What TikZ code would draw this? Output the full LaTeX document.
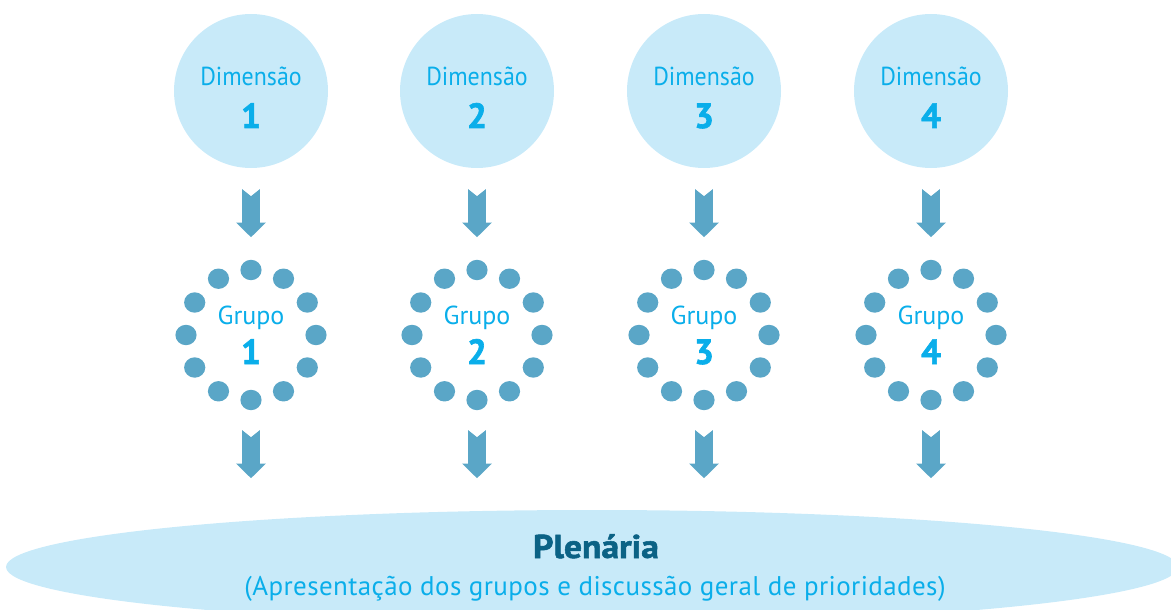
\documentclass[tikz,border=0pt]{standalone}
\usepackage{fontspec}
\setmainfont{PT Sans}
\newfontfamily\heavyfont{PT Sans}[FakeBold=1.6,FakeStretch=1.08]
\newfontfamily\numfont{PT Sans}[FakeBold=1.8]
\newfontfamily\narrowfont{PT Sans}[FakeStretch=0.92]
\newfontfamily\widefont{PT Sans}[LetterSpace=1.5]
\usetikzlibrary{calc,shapes.geometric}
\definecolor{circfill}{HTML}{C8EAF9}
\definecolor{txtblue}{HTML}{0AAEEA}
\definecolor{dotblue}{HTML}{5AA6C7}
\definecolor{plen}{HTML}{0B6285}
\tikzset{
  dimcirc/.style={circle,fill=circfill,minimum size=154pt,inner sep=0pt},
  ringnode/.style={circle,minimum size=151pt,inner sep=0pt},
  lbl/.style={anchor=base,text=txtblue,inner sep=0pt,font=\fontsize{26}{30}\selectfont},
  dimlbl/.style={lbl,font=\narrowfont\fontsize{26}{30}\selectfont},
  numlbl/.style={anchor=base,text=txtblue,inner sep=0pt,font=\numfont\fontsize{35}{40}\selectfont\bfseries},
  dotstyle/.style={fill=dotblue},
  barrow/.pic={\fill[dotblue] (-8.8,0) -- (0,7) -- (8.8,0) -- (8.8,33.5) -- (14.8,33.5) -- (0,48) -- (-14.8,33.5) -- (-8.8,33.5) -- cycle;}
}
\begin{document}
\begin{tikzpicture}[x=1pt,y=-1pt]
\useasboundingbox (0,0) rectangle (1171,610);
% plenary ellipse
\node[ellipse,fill=circfill,minimum width=1172pt,minimum height=114pt,inner sep=0pt] (plen) at (592,567) {};
\node[anchor=base,text=plen,inner sep=0pt,font=\heavyfont\fontsize{33}{36}\selectfont\bfseries] (plent) at (596,558) {Plenária};
\node[anchor=base,text=txtblue,inner sep=0pt,font=\widefont\fontsize{27}{30}\selectfont] (plens) at (595,595) {(Apresentação dos grupos e discussão geral de prioridades)};
\foreach \i/\x in {1/251,2/477,3/704,4/931}{
  \node[dimcirc] (d\i) at (\x,91) {};
  \node[dimlbl] (dl\i) at ($(d\i)+(0,-5)$) {Dimensão};
  \node[numlbl] (dn\i) at ($(d\i)+(0,37)$) {\i};
  \node[ringnode] (g\i) at (\x,335) {};
  \foreach \a in {0,30,...,330}{
    \fill[dotstyle] ($(g\i)+(\a:65)$) ellipse (10.6 and 10.2);
  }
  \node[lbl] (gl\i) at ($(g\i)+(0,-11)$) {Grupo};
  \node[numlbl] (gn\i) at ($(g\i)+(0,29)$) {\i};
  \path ($(d\i.south)+(0,21)$) pic {barrow};
  \path ($(g\i.south)+(0,19.5)$) pic {barrow};
}
\end{tikzpicture}
\end{document}
